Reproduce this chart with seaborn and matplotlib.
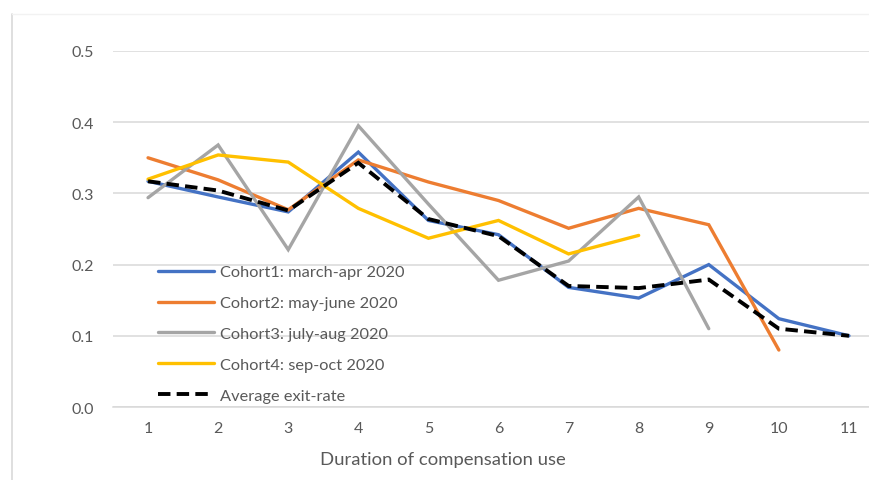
import matplotlib
matplotlib.use("Agg")
import matplotlib.pyplot as plt
import seaborn as sns
import pandas as pd
from matplotlib.lines import Line2D

# Exit-rate by month of compensation use, per cohort
durations = list(range(1, 12))
cohort1 = [0.317, 0.295, 0.274, 0.358, 0.262, 0.242, 0.168, 0.153, 0.200, 0.124, 0.100]
cohort2 = [0.350, 0.319, 0.277, 0.347, 0.316, 0.290, 0.251, 0.279, 0.256, 0.080]
cohort3 = [0.294, 0.368, 0.221, 0.395, 0.285, 0.178, 0.205, 0.295, 0.110]
cohort4 = [0.320, 0.354, 0.344, 0.279, 0.237, 0.262, 0.215, 0.241]
average = [0.317, 0.304, 0.276, 0.343, 0.264, 0.240, 0.170, 0.167, 0.179, 0.110, 0.100]

labels = ["Cohort1: march-apr 2020", "Cohort2: may-june 2020",
          "Cohort3: july-aug 2020", "Cohort4: sep-oct 2020", "Average exit-rate"]
series = [cohort1, cohort2, cohort3, cohort4, average]
colors = ["#4472C4", "#ED7D31", "#A5A5A5", "#FFC000", "#000000"]

rows = []
for lab, vals in zip(labels, series):
    for d, v in zip(durations, vals):
        rows.append({"duration": d, "rate": v, "series": lab})
df = pd.DataFrame(rows)

sns.set_style("white")
plt.rcParams["font.family"] = ["Lato", "DejaVu Sans"]

fig = plt.figure(figsize=(8.7, 4.81), dpi=100)
ax = fig.add_axes([113 / 870, 1 - 408 / 481, (884 - 113) / 870, (408 - 52) / 481])

grid_c = "#D9D9D9"
text_c = "#595959"
solid_w = 2.4
dash_w = 2.8
dash_pat = (3.2, 1.6)

sns.lineplot(data=df, x="duration", y="rate", hue="series", style="series",
             palette=dict(zip(labels, colors)),
             dashes={labels[0]: "", labels[1]: "", labels[2]: "", labels[3]: "",
                     labels[4]: dash_pat},
             hue_order=labels, style_order=labels,
             linewidth=solid_w, ax=ax, legend=False, sort=False)
for ln in ax.lines:
    if ln.get_linestyle() != "-":
        ln.set_linewidth(dash_w)
    ln.set_solid_joinstyle("miter")
    ln.set_dash_joinstyle("miter")

ax.set_xlim(0.5, 11.5)
ax.set_ylim(0, 0.5)
yt = [0.0, 0.1, 0.2, 0.3, 0.4, 0.5]
ax.set_yticks(yt)
ax.set_yticklabels([f"{t:.1f}" for t in yt])
ax.set_xticks(durations)
ax.set_xticklabels([str(d) for d in durations])
ax.yaxis.grid(True, color=grid_c, linewidth=1.1)
ax.set_axisbelow(True)
for s in ["top", "right", "left"]:
    ax.spines[s].set_visible(False)
ax.spines["bottom"].set_color(grid_c)
ax.spines["bottom"].set_linewidth(1.1)
ax.tick_params(axis="both", length=0, labelsize=11.5, colors=text_c)
ax.tick_params(axis="y", pad=14)
ax.tick_params(axis="x", pad=10)
ax.set_ylabel("")
ax.set_xlabel("Duration of compensation use", fontsize=13.3, color=text_c)
ax.xaxis.set_label_coords((443 - 113) / (884 - 113), -0.125)

handles = []
for lab, c in zip(labels, colors):
    if lab == labels[4]:
        handles.append(Line2D([], [], color=c, linewidth=dash_w, dashes=dash_pat))
    else:
        handles.append(Line2D([], [], color=c, linewidth=solid_w))
leg = fig.legend(handles, labels, loc="upper left", bbox_to_anchor=(158 / 870, 1 - 266 / 481),
                 frameon=False, fontsize=11.8, handlelength=3.4, handletextpad=0.38,
                 labelspacing=1.0, borderpad=0, borderaxespad=0)
for t in leg.get_texts():
    t.set_color(text_c)

# outer chart border
fig.add_artist(Line2D([12 / 870, 12 / 870], [0, 1 - 15 / 481], transform=fig.transFigure,
                      color=grid_c, linewidth=1.2))
fig.add_artist(Line2D([12 / 870, 1], [1 - 15 / 481, 1 - 15 / 481], transform=fig.transFigure,
                      color="#F2F2F2", linewidth=1.0))

fig.savefig("out.png", dpi=100)
